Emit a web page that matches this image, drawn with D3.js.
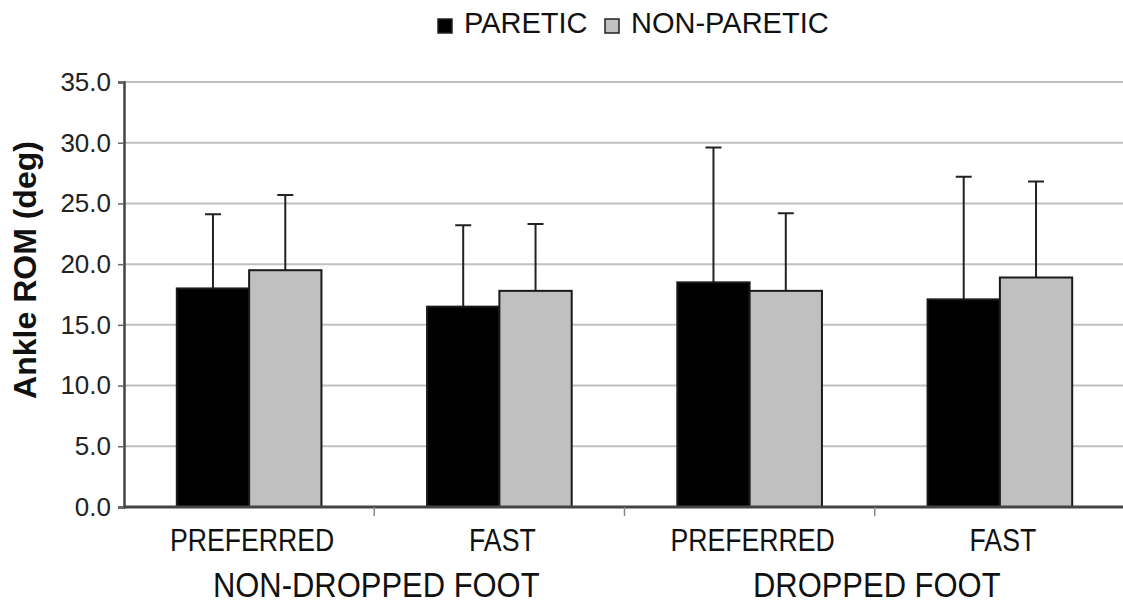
<!DOCTYPE html>
<html>
<head>
<meta charset="utf-8">
<script src="https://cdn.jsdelivr.net/npm/d3@7"></script>
<style>
  body { margin: 0; background: #fff; }
  svg { display: block; }
</style>
</head>
<body>
<div id="chart"></div>
<script>
// values
var categories = ['ND_PREF', 'ND_FAST', 'D_PREF', 'D_FAST'];
var speedLabels = ['PREFERRED', 'FAST', 'PREFERRED', 'FAST'];
var footGroups = ['NON-DROPPED FOOT', 'DROPPED FOOT'];
var seriesNames = ['PARETIC', 'NON-PARETIC'];
var pareticMean = [18.0, 16.5, 18.5, 17.1];
var pareticSD = [6.1, 6.7, 11.1, 10.1];
var nonPareticMean = [19.5, 17.8, 17.8, 18.9];
var nonPareticSD = [6.2, 5.5, 6.4, 7.9];
var yTicks = [0, 5, 10, 15, 20, 25, 30, 35];

var width = 1123, height = 604;
var margin = {top: 82, right: -2, bottom: 97, left: 124};
var colors = ['#000000', '#c0c0c0'];
var narrow = 0.86; // the figure's x labels are set in a condensed face

var svg = d3.select('#chart').append('svg')
    .attr('width', width)
    .attr('height', height);

var x0 = d3.scaleBand()
    .domain(categories)
    .range([margin.left, width - margin.right]);

var x1 = d3.scaleBand()
    .domain(seriesNames)
    .range([0, x0.bandwidth()])
    .paddingOuter(0.73);

var y = d3.scaleLinear()
    .domain([0, 35])
    .range([height - margin.bottom, margin.top]);

// gridlines
svg.append('g')
    .selectAll('line')
    .data(yTicks.slice(1))
    .enter()
    .append('line')
    .attr('x1', margin.left)
    .attr('x2', width)
    .attr('y1', function(d) { return y(d); })
    .attr('y2', function(d) { return y(d); })
    .attr('stroke', '#c0c0c0')
    .attr('stroke-width', 2);

var rows = categories.map(function(c, i) {
    return {
        cat: c,
        vals: [
            {s: seriesNames[0], m: pareticMean[i], sd: pareticSD[i]},
            {s: seriesNames[1], m: nonPareticMean[i], sd: nonPareticSD[i]}
        ]
    };
});

var groups = svg.selectAll('.grp')
    .data(rows)
    .enter()
    .append('g')
    .attr('class', 'grp')
    .attr('transform', function(d) { return 'translate(' + x0(d.cat) + ',0)'; });

// error bars (upper only)
groups.selectAll('.err')
    .data(function(d) { return d.vals; })
    .enter()
    .append('path')
    .attr('class', 'err')
    .attr('fill', 'none')
    .attr('stroke', '#222')
    .attr('stroke-width', 2)
    .attr('d', function(d) {
        var cx = x1(d.s) + x1.bandwidth() / 2;
        var top = y(d.m + d.sd);
        return 'M' + cx + ',' + y(d.m) + 'V' + top + 'M' + (cx - 8) + ',' + top + 'H' + (cx + 8);
    });

groups.selectAll('rect')
    .data(function(d) { return d.vals; })
    .enter()
    .append('rect')
    .attr('x', function(d) { return x1(d.s); })
    .attr('width', x1.bandwidth())
    .attr('y', function(d) { return y(d.m); })
    .attr('height', function(d) { return y(0) - y(d.m); })
    .attr('fill', function(d, i) { return colors[i]; })
    .attr('stroke', '#1a1a1a')
    .attr('stroke-width', 2);

// y axis
var yAxis = svg.append('g')
    .attr('transform', 'translate(' + margin.left + ',0)')
    .call(d3.axisLeft(y).tickValues(yTicks).tickFormat(d3.format('.1f')).tickSize(6).tickPadding(7));
yAxis.select('.domain').attr('stroke', '#444').attr('stroke-width', 2.5);
yAxis.selectAll('.tick line').attr('stroke', '#666').attr('stroke-width', 1.5);
yAxis.selectAll('text')
    .attr('font-family', '"Liberation Sans", Arial, sans-serif')
    .attr('font-size', 26)
    .attr('fill', '#222');

// x axis with boundary ticks
var xAxis = svg.append('g')
    .attr('transform', 'translate(0,' + y(0) + ')');
xAxis.append('line')
    .attr('x1', margin.left)
    .attr('x2', width)
    .attr('stroke', '#444')
    .attr('stroke-width', 3);
xAxis.selectAll('.bt')
    .data(categories.slice(1))
    .enter()
    .append('line')
    .attr('class', 'bt')
    .attr('x1', function(d) { return x0(d); })
    .attr('x2', function(d) { return x0(d); })
    .attr('y1', 0)
    .attr('y2', 9)
    .attr('stroke', '#888')
    .attr('stroke-width', 1.5);

xAxis.selectAll('.cl')
    .data(categories)
    .enter()
    .append('text')
    .attr('class', 'cl')
    .attr('transform', function(d) {
        return 'translate(' + (x0(d) + x0.bandwidth() / 2 + 3) + ',44) scale(' + narrow + ',1)';
    })
    .attr('text-anchor', 'middle')
    .attr('font-family', '"Liberation Sans", Arial, sans-serif')
    .attr('font-size', 31)
    .attr('fill', '#111')
    .text(function(d, i) { return speedLabels[i]; });

xAxis.selectAll('.gl')
    .data(footGroups)
    .enter()
    .append('text')
    .attr('class', 'gl')
    .attr('transform', function(d, i) {
        return 'translate(' + (x0(categories[i * 2 + 1]) + 2) + ',90) scale(' + narrow + ',1)';
    })
    .attr('text-anchor', 'middle')
    .attr('font-family', '"Liberation Sans", Arial, sans-serif')
    .attr('font-size', 36)
    .attr('fill', '#111')
    .text(function(d) { return d; });

// y label
svg.append('text')
    .attr('transform', 'translate(36,270) rotate(-90)')
    .attr('text-anchor', 'middle')
    .attr('font-family', '"Liberation Sans", Arial, sans-serif')
    .attr('font-weight', 'bold')
    .attr('font-size', 32)
    .attr('fill', '#111')
    .text('Ankle ROM (deg)');

// legend
var legend = svg.append('g').attr('transform', 'translate(438,0)');
var legX = [0, 167];
seriesNames.forEach(function(s, i) {
    legend.append('rect')
        .attr('x', legX[i])
        .attr('y', 19)
        .attr('width', 14)
        .attr('height', 14)
        .attr('fill', colors[i])
        .attr('stroke', '#222')
        .attr('stroke-width', 1.5);
    legend.append('text')
        .attr('x', legX[i] + 26)
        .attr('y', 33)
        .attr('font-family', '"Liberation Sans", Arial, sans-serif')
        .attr('font-size', 29)
        .attr('fill', '#111')
        .text(s);
});
</script>
</body>
</html>
